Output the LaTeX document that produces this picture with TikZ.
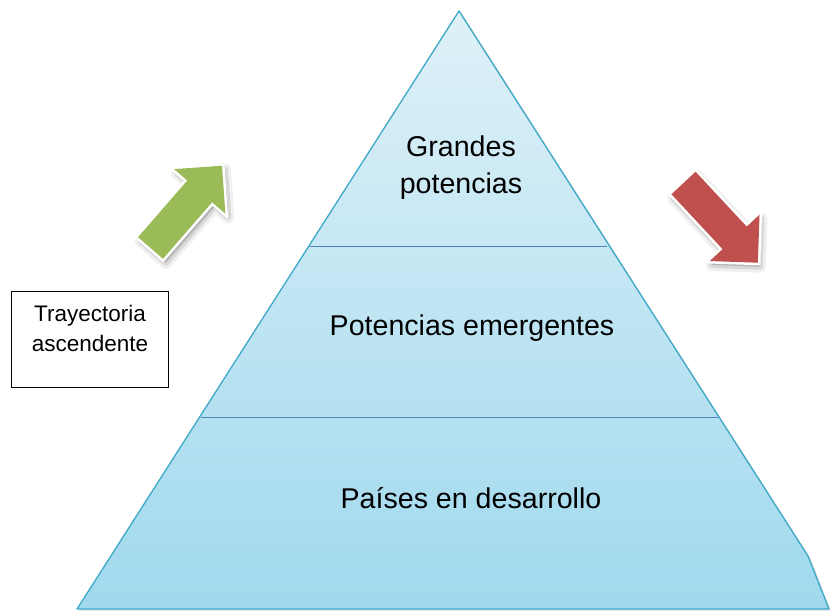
\documentclass[tikz,border=0pt]{standalone}
\usepackage{fontspec}
\setmainfont{Liberation Sans}
\definecolor{pyrtop}{RGB}{223,241,248}
\definecolor{pyrbot}{RGB}{160,217,238}
\definecolor{pyredge}{RGB}{62,168,200}
\definecolor{pyrline}{RGB}{79,129,189}
\definecolor{arrgreen}{RGB}{155,187,89}
\definecolor{arrred}{RGB}{192,80,77}
\tikzset{
  barrow/.pic={\path[pic actions] (0,-16.5) -- (75,-16.5) -- (75,-34) -- (109,0) -- (75,34) -- (75,16.5) -- (0,16.5) -- cycle;},
  shadowlayer/.style={fill=black, draw=black, line join=round},
  glowlayer/.style={fill=white, draw=white, line width=5pt, line join=miter},
  pyrtext/.style={font=\fontsize{28.6}{37}\selectfont, align=center, text=black},
  boxtext/.style={font=\fontsize{22.5}{30}\selectfont, align=center, text=black},
}
\begin{document}
\begin{tikzpicture}[x=1pt,y=-1pt]
\useasboundingbox (0,0) rectangle (830,611);
% pyramid shadow
\fill[black, opacity=0.10] (461,12) -- (811,559) -- (831,611) -- (79,611) -- cycle;
% pyramid
\shade[top color=pyrtop, bottom color=pyrbot, draw=pyredge, line width=1.3pt, line join=round]
  (459,11) -- (808,556) -- (829,609) -- (77,609) -- cycle;
\coordinate (l1a) at (310,246); \coordinate (l1b) at (607,246);
\coordinate (l2a) at (201,417); \coordinate (l2b) at (718,417);
\draw[pyrline, line width=1pt] (l1a) -- (l1b);
\draw[pyrline, line width=1pt] (l2a) -- (l2b);
\node[pyrtext] (grandes) at (461,168) {Grandes\\potencias};
\node[pyrtext] (emerg) at (472,328) {Potencias emergentes};
\node[pyrtext] (desarr) at (471,498) {Países en desarrollo};
% box
\node[draw=black, line width=0.8pt, minimum width=157pt, minimum height=96pt, inner sep=0pt] (boxr) at (89.5,339) {};
\node[boxtext] (boxt) at (90,328) {Trayectoria\\ascendente};
% green arrow
\pic[rotate=49, shadowlayer, opacity=0.06, line width=12pt] at (153.5,252) {barrow};
\pic[rotate=49, shadowlayer, opacity=0.10, line width=6pt] at (153.5,252) {barrow};
\pic[rotate=49, glowlayer] at (150.5,248) {barrow};
\pic[rotate=49, fill=arrgreen] at (150.5,248) {barrow};
% red arrow
\pic[rotate=-47, shadowlayer, opacity=0.06, line width=12pt] at (685.5,187) {barrow};
\pic[rotate=-47, shadowlayer, opacity=0.10, line width=6pt] at (685.5,187) {barrow};
\pic[rotate=-47, glowlayer] at (683.5,183) {barrow};
\pic[rotate=-47, fill=arrred] at (683.5,183) {barrow};
\end{tikzpicture}
\end{document}
